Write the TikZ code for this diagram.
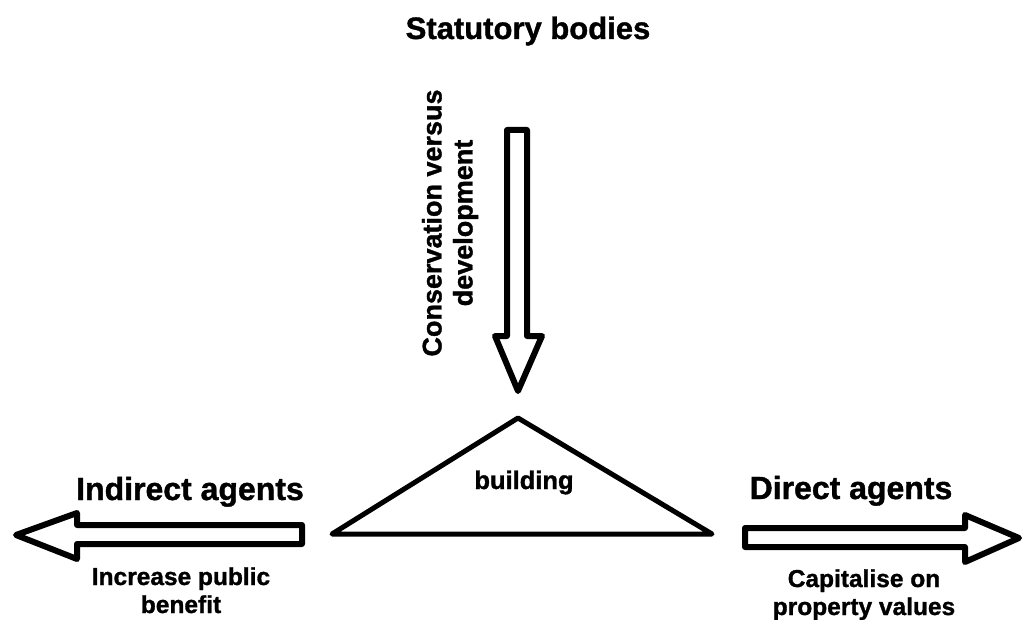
\documentclass[tikz,border=0pt]{standalone}
\usepackage{fontspec}
\setmainfont{Liberation Sans}[BoldFeatures={FakeBold=1.2}]
\begin{document}
\begin{tikzpicture}[x=1pt,y=-1pt,
  blockarrow/.style={draw=black, fill=white, line width=6pt, line join=round},
  house/.style={draw=black, line width=5pt, line join=round},
  heading/.style={font=\bfseries\fontsize{32}{36}\selectfont, inner sep=0pt, anchor=base},
  label/.style={font=\bfseries\fontsize{24.5}{28}\selectfont, inner sep=0pt, align=center, anchor=base}]
\useasboundingbox (0,0) rectangle (1025,620);

% headings
\node[heading, font=\bfseries\fontsize{31}{36}\selectfont] (statutory) at (528,39) {Statutory bodies};
\node[heading] (indirect) at (190,500) {Indirect agents};
\node[heading] (direct) at (851,499) {Direct agents};

% the building
\draw[house] (518,418) -- (712,534) -- (332,534) -- cycle;
\node[label, font=\bfseries\fontsize{25.5}{28}\selectfont] (building) at (524,489) {building};

% downward arrow from the statutory bodies
\draw[blockarrow] (507,130) -- (527,130) -- (527,336) -- (542,336) -- (518,391)
  -- (495,336) -- (507,336) -- cycle;
\node[font=\bfseries\fontsize{27}{31}\selectfont, rotate=90, align=center, inner sep=0pt]
  (conflict) at (450,223) {Conservation versus\\development};

% left arrow towards the indirect agents (text baseline is that of its last line)
\draw[blockarrow] (302,525) -- (302,544) -- (77,544) -- (77,559) -- (16,535)
  -- (77,513) -- (77,525) -- cycle;
\node[label] (public) at (181,613) {Increase public\\benefit};

% right arrow towards the direct agents
\draw[blockarrow] (745,528) -- (965,528) -- (965,515) -- (1019,538) -- (965,562)
  -- (965,547) -- (745,547) -- cycle;
\node[label] (property) at (864,615) {Capitalise on\\property values};
\end{tikzpicture}
\end{document}
